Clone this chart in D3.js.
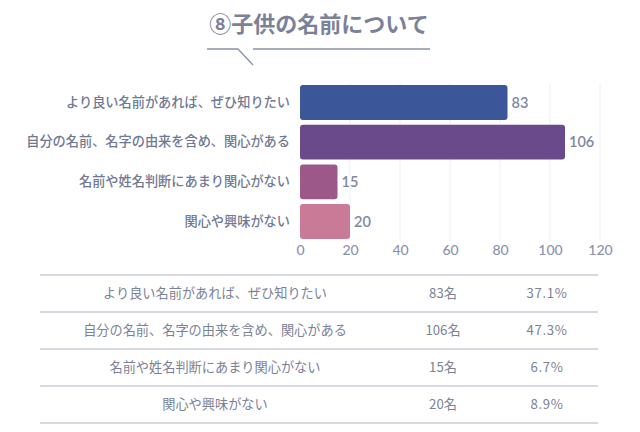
<!DOCTYPE html>
<html><head><meta charset="utf-8">
<script src="https://cdn.jsdelivr.net/npm/d3@7"></script>
<style>
html,body{margin:0;padding:0;background:#fff;}
svg{display:block;}
</style></head>
<body>
<svg id="chart" width="640" height="432"></svg>
<script>
const title = "⑧子供の名前について";
const categories = ["より良い名前があれば、ぜひ知りたい","自分の名前、名字の由来を含め、関心がある","名前や姓名判断にあまり関心がない","関心や興味がない"];
const values = [83, 106, 15, 20];
const countLabels = ["83名","106名","15名","20名"];
const percentLabels = ["37.1%","47.3%","6.7%","8.9%"];
const xTicks = [0, 20, 40, 60, 80, 100, 120];
const colors = ["#3b5799","#6a4a8a","#9b5888","#c87a97"];

const svg = d3.select("#chart");
const jp = "'Noto Sans CJK JP', 'Noto Sans', sans-serif";
const num = "Lato, 'Noto Sans CJK JP', sans-serif";

// Title
svg.append("text").attr("x", 319).attr("y", 32).attr("text-anchor","middle")
  .attr("font-family", jp).attr("font-weight", 700).attr("font-size", 22)
  .attr("fill", "#7a8198").text(title);
// speech-bubble underline
svg.append("path").attr("d","M207,49 L238,49 L253,65 M253,49 L430,49")
  .attr("fill","none").attr("stroke","#8a91a8").attr("stroke-width",1.3);

const x = d3.scaleLinear().domain([0,120]).range([300,600]);
const y = d3.scaleBand().domain(categories).range([83,241]).paddingInner(0.12).paddingOuter(0.05);

// gridlines
svg.append("g").selectAll("line").data(xTicks.slice(1)).join("line")
  .attr("x1", d=>x(d)).attr("x2", d=>x(d)).attr("y1", 83).attr("y2", 241)
  .attr("stroke","#eef0f4").attr("stroke-width",1);

// bars
svg.append("g").selectAll("rect").data(values).join("rect")
  .attr("x", x(0)).attr("y", (d,i)=>y(categories[i]))
  .attr("width", d=>x(d)-x(0)).attr("height", y.bandwidth())
  .attr("rx", 3).attr("fill", (d,i)=>colors[i]);

// value labels
svg.append("g").selectAll("text").data(values).join("text")
  .attr("x", d=>x(d)+4).attr("y", (d,i)=>y(categories[i])+y.bandwidth()/2)
  .attr("dy","0.36em").attr("font-family", num).attr("font-weight", 600)
  .attr("font-size", 14.5).attr("fill","#7d88a4").text(d=>d);

// y axis (category labels)
const yAxis = d3.axisLeft(y).tickSize(0).tickPadding(10);
const gy = svg.append("g").attr("transform","translate(300,0)").call(yAxis);
gy.select(".domain").remove();
gy.selectAll("text").attr("font-family", jp).attr("font-weight", 500)
  .attr("font-size", 13.2).attr("fill","#6f7994");

// x axis
const xAxis = d3.axisBottom(x).tickValues(xTicks).tickSize(0).tickPadding(4);
const gx = svg.append("g").attr("transform","translate(0,241)").call(xAxis);
gx.select(".domain").remove();
gx.selectAll("text").attr("font-family", num).attr("font-weight", 500)
  .attr("font-size", 14).attr("fill","#8a93ad");

// table
const rowY = d3.scaleBand().domain(categories).range([275,423]);
const lines = [275, ...categories.map(c=>rowY(c)+rowY.bandwidth())];
svg.append("g").selectAll("line").data(lines).join("line")
  .attr("x1",40).attr("x2",598).attr("y1",d=>d).attr("y2",d=>d)
  .attr("stroke","#aeb3c1").attr("stroke-width",1.2);
const tbl = svg.append("g").attr("font-family", jp).attr("font-size", 13.2)
  .attr("fill","#7c8296").attr("text-anchor","middle");
tbl.selectAll("text.c").data(categories).join("text").attr("class","c")
  .attr("x",215).attr("y",d=>rowY(d)+rowY.bandwidth()/2).attr("dy","0.35em").text(d=>d);
tbl.selectAll("text.n").data(countLabels).join("text").attr("class","n")
  .attr("x",443).attr("y",(d,i)=>rowY(categories[i])+rowY.bandwidth()/2).attr("dy","0.35em").text(d=>d);
tbl.selectAll("text.p").data(percentLabels).join("text").attr("class","p")
  .attr("x",547).attr("y",(d,i)=>rowY(categories[i])+rowY.bandwidth()/2).attr("dy","0.35em")
  .attr("letter-spacing", 0.6).text(d=>d);
</script>
</body></html>
